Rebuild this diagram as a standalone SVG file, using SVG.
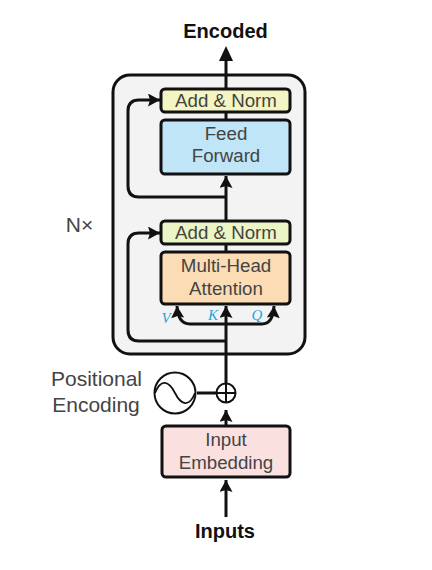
<svg xmlns="http://www.w3.org/2000/svg" width="432" height="570" viewBox="0 0 432 570">
<style>
text{font-family:"Liberation Sans",Arial,sans-serif;text-anchor:middle;fill:#444}
.b{font-weight:bold;fill:#111;font-size:20px}
.box{stroke:#111;stroke-width:3}
.l{fill:none;stroke:#111;stroke-width:3;stroke-linejoin:round}
.t{font-size:18.700px}
.m{font-family:"Liberation Serif",serif;font-style:italic;font-size:15px;fill:#1ea5dc}
</style>
<defs><marker id="a" markerUnits="userSpaceOnUse" markerWidth="13" markerHeight="14" refX="12" refY="6.500" orient="auto"><path d="M0 0L12 6.500L0 13L2 6.500Z" fill="#111"/></marker></defs>
<rect width="432" height="570" fill="#fff"/>
<g id="encoder"><rect x="113" y="75" width="192" height="279" rx="17" fill="#f3f3f4" stroke="#111" stroke-width="3"/></g>
<g id="connectors">
<path class="l" d="M226 90V56"/><path d="M226 46L219 61H233Z" fill="#111"/>
<path class="l" d="M226 112V121"/>
<path class="l" d="M226 220V176" marker-end="url(#a)"/>
<path class="l" d="M226 197H139Q128 197 128 186V111Q128 100 139 100H160" marker-end="url(#a)"/>
<path class="l" d="M226 245V252"/>
<path class="l" d="M226 383V306" marker-end="url(#a)"/>
<path class="l" d="M226 341H139Q128 341 128 330V244Q128 233 139 233H160" marker-end="url(#a)"/>
<path class="l" d="M226 324H190Q178 324 177 306" marker-end="url(#a)"/>
<path class="l" d="M226 324H262Q273 324 274 306" marker-end="url(#a)"/>
<path class="l" d="M226 425V410" marker-end="url(#a)"/>
<path class="l" d="M226 517V480" marker-end="url(#a)"/>
<path d="M197 393H216" class="l"/>
</g>
<g id="add-norm-2"><rect class="box" x="161" y="89" width="129" height="23" rx="4" fill="#f3f5c3"/><text class="t" x="226" y="107">Add &amp; Norm</text></g>
<g id="feed-forward"><rect class="box" x="161" y="120" width="129" height="54" rx="4" fill="#bfe5f6"/><text class="t" x="226" y="140">Feed</text><text class="t" x="226" y="162">Forward</text></g>
<g id="add-norm-1"><rect class="box" x="161" y="221" width="129" height="23" rx="4" fill="#ebf5c6"/><text class="t" x="226" y="239">Add &amp; Norm</text></g>
<g id="attention"><rect class="box" x="161" y="252" width="129" height="52" rx="4" fill="#fbdcb4"/><text class="t" x="226" y="272">Multi-Head</text><text class="t" x="226" y="295">Attention</text></g>
<g id="input-embedding"><rect class="box" x="162" y="426" width="128" height="51" rx="4" fill="#fbe0e0"/><text class="t" x="226" y="446">Input</text><text class="t" x="226" y="469">Embedding</text></g>
<g id="positional-encoding"><circle cx="175" cy="393" r="20.500" fill="#fff" stroke="#111" stroke-width="2"/><path d="M155 393C161 378 169 381 175 393S189 408 195 393" fill="none" stroke="#111" stroke-width="1.800"/></g>
<g id="add"><circle cx="226" cy="393" r="9.500" fill="#fff" stroke="#111" stroke-width="2"/><path d="M216.500 393H235.500M226 383.500V402.500" stroke="#111" stroke-width="2"/></g>
<g id="labels">
<text class="b" x="225.500" y="38">Encoded</text>
<text class="b" x="225" y="538">Inputs</text>
<text x="79.500" y="232" font-size="21">N×</text>
<text x="96.500" y="386" font-size="21">Positional</text>
<text x="96" y="412" font-size="21">Encoding</text>
<text class="m" x="166" y="323">V</text><text class="m" x="213" y="320">K</text><text class="m" x="257" y="320">Q</text>
</g>
</svg>
